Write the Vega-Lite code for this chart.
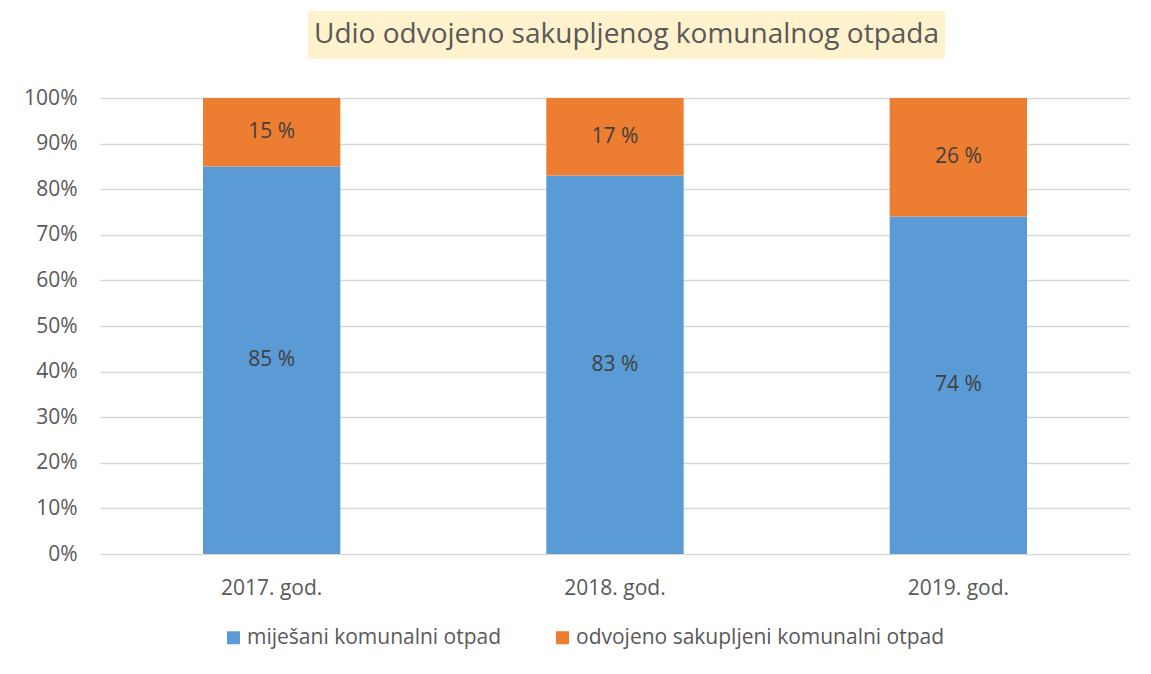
{
  "$schema": "https://vega.github.io/schema/vega-lite/v6.json",
  "background": "white",
  "padding": {"left": 23, "top": 11, "right": 0, "bottom": 30},
  "config": {
    "font": "Open Sans",
    "view": {"stroke": null}
  },
  "spacing": 28,
  "datasets": {
    "shares": [
      {"year": "2017. god.", "category": "miješani komunalni otpad", "share": 0.85, "label": "85 %"},
      {"year": "2017. god.", "category": "odvojeno sakupljeni komunalni otpad", "share": 0.15, "label": "15 %"},
      {"year": "2018. god.", "category": "miješani komunalni otpad", "share": 0.83, "label": "83 %"},
      {"year": "2018. god.", "category": "odvojeno sakupljeni komunalni otpad", "share": 0.17, "label": "17 %"},
      {"year": "2019. god.", "category": "miješani komunalni otpad", "share": 0.74, "label": "74 %"},
      {"year": "2019. god.", "category": "odvojeno sakupljeni komunalni otpad", "share": 0.26, "label": "26 %"}
    ],
    "titleRow": [{"title": "Udio odvojeno sakupljenog komunalnog otpada"}]
  },
  "vconcat": [
    {
      "hconcat": [
        {
          "width": 188,
          "height": 48,
          "data": {"values": []},
          "mark": "point"
        },
        {
          "width": 637,
          "height": 48,
          "view": {"fill": "#FFF2CC", "stroke": null},
          "data": {"name": "titleRow"},
          "mark": {"type": "text", "fontSize": 28, "color": "#595959", "align": "center", "baseline": "middle"},
          "encoding": {"text": {"field": "title"}}
        }
      ],
      "spacing": 20
    },
    {
      "width": 1030,
      "height": 456,
      "data": {"name": "shares"},
      "encoding": {
        "x": {
          "field": "year",
          "type": "nominal",
          "sort": null,
          "scale": {"paddingInner": 0.6, "paddingOuter": 0.3},
          "axis": {"title": null, "labelAngle": 0, "domain": false, "ticks": false, "labelFontSize": 21, "labelColor": "#595959", "labelPadding": 23}
        },
        "y": {
          "field": "share",
          "type": "quantitative",
          "stack": "zero",
          "scale": {"domain": [0, 1]},
          "axis": {"title": null, "values": [0, 0.1, 0.2, 0.3, 0.4, 0.5, 0.6, 0.7, 0.8, 0.9, 1], "format": ".0%", "domain": false, "ticks": false, "labelFontSize": 21, "labelColor": "#595959", "labelPadding": 23, "gridColor": "#D9D9D9", "gridWidth": 1.3}
        }
      },
      "layer": [
        {
          "mark": {"type": "bar"},
          "encoding": {
            "color": {
              "field": "category",
              "type": "nominal",
              "scale": {"domain": ["miješani komunalni otpad", "odvojeno sakupljeni komunalni otpad"], "range": ["#5B9BD5", "#ED7D31"]},
              "legend": {"title": null, "orient": "none", "legendX": 123, "legendY": 616, "direction": "horizontal", "symbolType": "square", "symbolSize": 169, "symbolStrokeWidth": 0, "labelFontSize": 21, "labelColor": "#595959", "columnPadding": 50, "labelLimit": 600, "labelOffset": 3}
            },
            "order": {"field": "category"}
          }
        },
        {
          "mark": {"type": "text", "fontSize": 21, "color": "#404040", "baseline": "middle"},
          "encoding": {
            "y": {"field": "share", "type": "quantitative", "stack": "zero", "bandPosition": 0.5},
            "detail": {"field": "category"},
            "order": {"field": "category"},
            "text": {"field": "label"}
          }
        }
      ]
    }
  ]
}
